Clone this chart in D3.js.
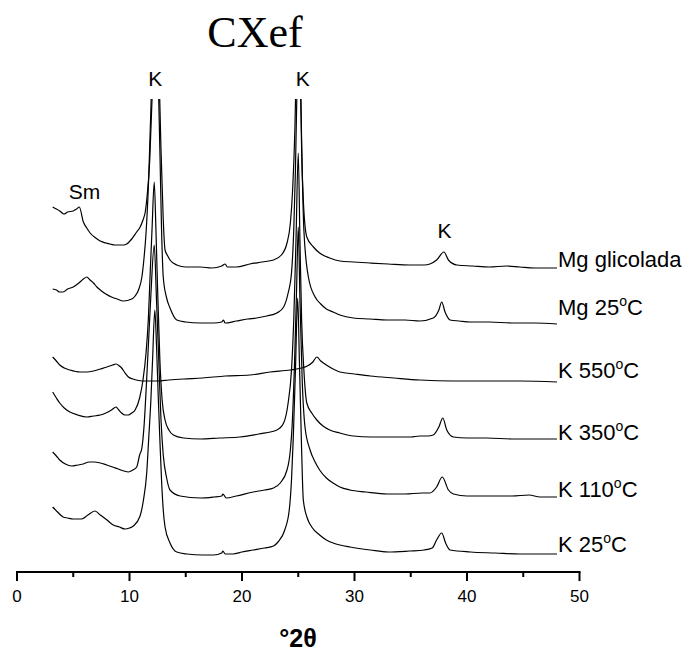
<!DOCTYPE html>
<html>
<head>
<meta charset="utf-8">
<script src="https://cdn.jsdelivr.net/npm/d3@7"></script>
<style>
  html, body { margin: 0; padding: 0; background: #fff; }
  svg { display: block; }
</style>
</head>
<body>
<svg id="chart" width="691" height="652"></svg>
<script>
// ---------------- DATA ----------------
const title = "CXef";
const xTicks = [0, 10, 20, 30, 40, 50];
const xMinorTicks = [5, 15, 25, 35, 45];
const seriesNames = ["Mg glicolada", "Mg 25", "K 550", "K 350", "K 110", "K 25"];
const seriesHasDegree = [false, true, true, true, true, true];

// [2θ, stacked intensity (arbitrary units)]
const mgGlicolada = [
  [3.17,365],[3.5,363],[3.8,361],[4.18,358],[4.5,360],[5.0,361],[5.3,363],[5.54,365],[5.9,350],[6.2,344],
  [6.5,339],[7.0,334],[7.4,331],[7.9,329],[8.27,328],[8.7,327],[9.16,327],[9.5,327],[9.75,328],[10.2,333],
  [10.64,340],[10.9,344],[11.2,352],[11.4,360],[11.55,374],[11.8,412],[12.0,472],[12.2,552],[12.4,632],[12.6,512],
  [12.8,422],[13.0,352],[13.16,322],[13.4,316],[13.6,312],[14.2,307],[15.0,305],[16.3,305],[17.3,304],[18.2,306],
  [18.5,308],[18.7,305],[19.5,305],[20.7,308],[21.8,310],[22.8,312],[23.5,317],[24.0,329],[24.3,349],[24.5,382],
  [24.7,442],[24.85,522],[25.0,632],[25.15,532],[25.3,422],[25.45,372],[25.76,335],[26.35,325],[26.9,319],[27.8,314],
  [28.7,311],[29.9,310],[31.4,309],[33.0,308],[34.9,307],[36.2,307],[36.7,308],[37.3,312],[37.95,320],[38.35,312],
  [39.1,307],[40.5,306],[42.0,305],[43.5,306],[44.7,305],[46.0,304],[48.0,304]
];
const mg25 = [
  [3.17,283],[3.5,282],[3.8,280],[4.1,280],[4.5,283],[5.0,285],[5.5,289],[5.9,293],[6.2,295],[6.5,292],
  [6.8,289],[7.1,285],[7.4,282],[7.9,278],[8.4,275],[8.9,273],[9.45,271],[10.2,273],[10.5,276],[10.8,282],
  [11.1,295],[11.3,315],[11.47,339],[11.7,392],[11.9,462],[12.1,552],[12.3,612],[12.5,522],[12.7,422],[12.85,342],
  [13.0,295],[13.3,274],[13.6,264],[14.2,252],[15.0,250],[16.3,249],[17.5,249],[18.2,250],[18.35,252],[18.5,249],
  [19.5,251],[20.5,253],[21.3,254],[22.2,256],[23.1,259],[23.7,265],[24.1,279],[24.4,299],[24.6,342],[24.75,402],
  [24.9,492],[25.05,592],[25.2,492],[25.35,402],[25.5,342],[25.9,295],[26.5,275],[27.0,268],[27.5,263],[28.1,260],
  [28.7,257],[29.9,254],[31.4,253],[32.9,252],[34.5,252],[35.8,251],[37.0,254],[37.5,262],[37.75,270],[38.05,260],
  [38.5,252],[39.3,251],[40.3,250],[42,250],[44,249],[46,249],[48,248]
];
const k550 = [
  [3.17,215],[3.5,211],[3.8,207],[4.2,204],[4.7,202],[5.6,200],[6.2,200],[6.8,201],[7.4,203],[8.0,205],
  [8.5,207],[8.8,208],[9.1,206],[9.3,204],[9.6,199],[9.9,195],[10.3,193],[10.6,192],[11.2,191],[11.8,191],
  [12.5,191],[13.5,192],[14.8,193],[16.5,194],[18.5,196],[20.7,197],[22.5,200],[24.3,202],[25.3,204],[25.8,206],
  [26.3,210],[26.65,215],[27.0,211],[27.5,207],[28.1,203],[28.7,200],[30.0,198],[31.4,196],[33.5,194],[35.8,192],
  [38.8,191],[41.5,191],[44.7,191],[48,190]
];
const k350 = [
  [3.17,180],[3.5,174],[3.8,169],[4.2,164],[4.7,160],[5.4,157],[6.2,155],[6.8,156],[7.4,157],[7.9,159],
  [8.4,162],[8.8,165],[9.05,162],[9.3,159],[9.6,157],[9.9,157],[10.2,159],[10.5,162],[10.9,174],[11.2,192],
  [11.47,219],[11.67,252],[11.85,302],[12.0,342],[12.2,390],[12.35,342],[12.5,282],[12.7,212],[12.9,172],[13.16,152],
  [13.5,142],[13.9,137],[14.8,134],[16.3,133],[18.0,134],[19.8,135],[21.5,138],[23.1,142],[23.7,149],[24.1,169],
  [24.4,202],[24.6,252],[24.8,332],[25.0,419],[25.15,332],[25.3,252],[25.5,202],[25.76,169],[26.2,159],[26.65,152],
  [27.2,146],[27.8,142],[28.7,139],[29.9,136],[31.5,135],[33.8,135],[35.0,135],[35.8,136],[36.5,136],[37.0,137],
  [37.5,145],[37.85,154],[38.2,142],[38.8,135],[40.0,134],[41.8,134],[44,133],[46,133],[48,133]
];
const k110 = [
  [3.17,120],[3.5,116],[3.8,112],[4.3,108],[4.86,106],[5.4,107],[5.9,108],[6.4,110],[6.9,110],[7.4,109],
  [7.97,107],[8.5,105],[9.0,103],[9.5,101],[9.9,100],[10.3,102],[10.64,105],[10.9,117],[11.1,124],[11.3,147],
  [11.5,187],[11.7,232],[11.9,277],[12.2,327],[12.4,272],[12.6,212],[12.8,152],[13.0,117],[13.3,94],[13.6,82],
  [14.5,76],[16.3,74],[17.5,75],[18.2,76],[18.3,78],[18.6,74],[19.5,76],[21.0,80],[22.0,82],[22.8,84],
  [23.4,89],[24.0,102],[24.3,122],[24.45,145],[24.65,202],[24.85,282],[25.0,345],[25.15,272],[25.35,192],[25.6,145],
  [26.05,122],[26.5,110],[26.9,102],[27.5,94],[28.1,89],[28.7,85],[29.6,82],[31.0,80],[32.9,78],[34.5,78],
  [36.0,79],[36.7,79],[37.3,85],[37.8,95],[38.35,82],[38.8,78],[40,76],[42,76],[44,76],[45.5,77],[46.5,75],[48,75]
];
const k25 = [
  [3.17,65],[3.6,60],[4.1,55],[4.5,54],[5.0,53],[5.75,53],[6.3,57],[6.93,61],[7.4,57],[8.0,52],
  [8.56,47],[9.1,45],[9.6,43],[10.0,44],[10.34,46],[10.94,56],[11.24,72],[11.53,99],[11.7,132],[11.9,172],
  [12.05,212],[12.25,262],[12.4,227],[12.55,177],[12.7,132],[12.86,89],[13.0,62],[13.16,45],[13.6,29],[14.2,20],
  [15.1,18],[16.5,17],[17.5,17],[18.2,19],[18.3,21],[18.5,18],[19.2,18],[20.0,20],[21.0,22],[22.0,24],
  [22.8,26],[23.2,30],[23.8,42],[24.2,62],[24.4,92],[24.55,132],[24.75,202],[24.95,274],[25.1,212],[25.3,122],
  [25.45,72],[25.8,54],[26.2,45],[26.9,37],[27.5,32],[28.1,29],[28.7,27],[29.6,25],[31.4,22],
  [33.0,20],[34.9,21],[36.2,22],[36.9,24],[37.3,32],[37.75,39],[38.1,29],[38.5,22],[40.3,20],[42.5,19],
  [44.7,18],[46.5,18],[48,18]
];
const seriesData = [mgGlicolada, mg25, k550, k350, k110, k25];

// Peak annotations: [label, 2θ, intensity]
const peakLabels = [["K", 12.3, 486], ["K", 25.4, 486], ["K", 38.0, 334], ["Sm", 6.0, 373]];

// ---------------- LAYOUT ----------------
const svg = d3.select("#chart");
const x = d3.scaleLinear().domain([0, 50]).range([17, 579.5]);
const y = d3.scaleLinear().domain([0, 473]).range([572, 99]);
const labelDy = [-1, -9, -4, 1, 0, -2];

svg.append("defs").append("clipPath").attr("id", "plotclip")
  .append("rect").attr("x", 0).attr("y", y(473)).attr("width", 691).attr("height", y(0) - y(473));

const line = d3.line().x(d => x(d[0])).y(d => y(d[1])).curve(d3.curveMonotoneX);

const g = svg.append("g").attr("clip-path", "url(#plotclip)");
g.selectAll("path.series").data(seriesData).join("path")
  .attr("class", "series")
  .attr("d", line)
  .attr("fill", "none")
  .attr("stroke", "#000")
  .attr("stroke-width", 1.2)
  .attr("stroke-linejoin", "round");

// Series labels
const lab = svg.append("g")
  .attr("font-family", "'Liberation Sans', Arial, sans-serif")
  .attr("font-size", 22)
  .attr("fill", "#000");
seriesData.forEach((s, i) => {
  const last = s[s.length - 1];
  const t = lab.append("text")
    .attr("x", x(last[0]) + 1)
    .attr("y", y(last[1]) + labelDy[i]);
  t.append("tspan").text(seriesNames[i]);
  if (seriesHasDegree[i]) {
    t.append("tspan").attr("font-size", 14).attr("dy", -9).text("o");
    t.append("tspan").attr("dy", 9).text("C");
  }
});

// Peak labels
svg.append("g")
  .attr("font-family", "'Liberation Sans', Arial, sans-serif")
  .attr("font-size", 21)
  .attr("text-anchor", "middle")
  .selectAll("text").data(peakLabels).join("text")
  .attr("x", d => x(d[1]))
  .attr("y", d => y(d[2]))
  .text(d => d[0]);

// Title
svg.append("text")
  .attr("x", 255).attr("y", 47)
  .attr("text-anchor", "middle")
  .attr("font-family", "'Liberation Serif', 'Times New Roman', serif")
  .attr("font-size", 44)
  .text(title);

// X axis
const axisG = svg.append("g").attr("transform", `translate(0,${y(0)})`);
axisG.append("line")
  .attr("x1", x(0) - 1).attr("x2", x(50) + 1)
  .attr("stroke", "#000").attr("stroke-width", 2);
axisG.selectAll("line.major").data(xTicks).join("line")
  .attr("class", "major")
  .attr("x1", d => x(d)).attr("x2", d => x(d))
  .attr("y1", 0).attr("y2", 9)
  .attr("stroke", "#000").attr("stroke-width", 2);
axisG.selectAll("line.minor").data(xMinorTicks).join("line")
  .attr("class", "minor")
  .attr("x1", d => x(d)).attr("x2", d => x(d))
  .attr("y1", 0).attr("y2", 5)
  .attr("stroke", "#000").attr("stroke-width", 2);
axisG.selectAll("text.tick").data(xTicks).join("text")
  .attr("class", "tick")
  .attr("x", d => x(d)).attr("y", 30)
  .attr("text-anchor", "middle")
  .attr("font-family", "'Liberation Sans', Arial, sans-serif")
  .attr("font-size", 17)
  .text(d => d);

// X axis title
svg.append("text")
  .attr("x", 298).attr("y", 647)
  .attr("text-anchor", "middle")
  .attr("font-family", "'Liberation Sans', Arial, sans-serif")
  .attr("font-weight", "bold")
  .attr("font-size", 25)
  .text("°2θ");
</script>
</body>
</html>
